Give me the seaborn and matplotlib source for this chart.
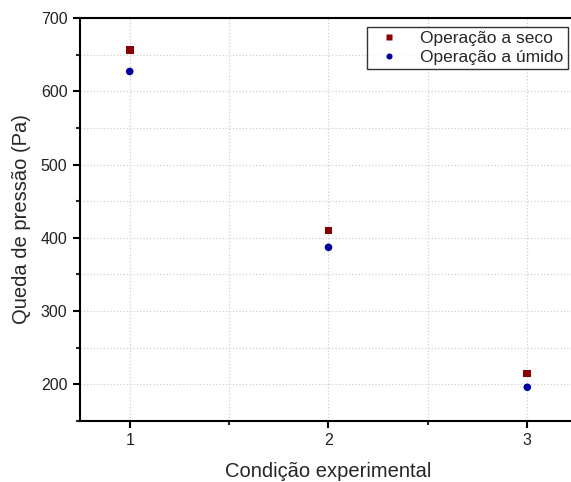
import pandas as pd
import numpy as np
import matplotlib
matplotlib.use('Agg')
import matplotlib.pyplot as plt
from matplotlib.ticker import MultipleLocator
import seaborn as sns

# data
condicao = [1, 2, 3]
queda_seco = [656, 410, 215]   # Pa
queda_umido = [627, 387, 196]  # Pa
series = ['Operação a seco', 'Operação a úmido']

df = pd.DataFrame({
    'condicao': condicao * 2,
    'queda': queda_seco + queda_umido,
    'serie': [series[0]] * 3 + [series[1]] * 3,
})

sns.set_style('white')
plt.rcParams['font.family'] = ['Liberation Sans', 'DejaVu Sans']

fig = plt.figure(figsize=(5.71, 4.82), dpi=100)
ax = fig.add_axes([0.1401, 0.1266, 0.8704, 0.8361])

sns.scatterplot(data=df, x='condicao', y='queda', hue='serie', style='serie',
                markers={series[0]: 's', series[1]: 'o'},
                palette={series[0]: '#8b0000', series[1]: '#0000a0'},
                s=30, edgecolor='none', ax=ax, zorder=3)

ax.set_xlim(0.75, 3.25)
ax.set_ylim(150, 700)
ax.xaxis.set_major_locator(MultipleLocator(1))
ax.xaxis.set_minor_locator(MultipleLocator(0.5))
ax.yaxis.set_major_locator(MultipleLocator(100))
ax.yaxis.set_minor_locator(MultipleLocator(50))

ax.grid(True, which='both', linestyle=':', color='#d0d0d0', linewidth=0.9)
ax.set_axisbelow(True)

for side in ['left', 'bottom', 'top', 'right']:
    ax.spines[side].set_linewidth(1.5)
    ax.spines[side].set_color('black')

ax.tick_params(which='major', direction='out', length=5, width=1.5,
               labelsize=11.5, colors='black', pad=4, bottom=True, left=True)
ax.tick_params(which='minor', direction='out', length=3, width=1.5,
               bottom=True, left=True)
ax.tick_params(axis='both', labelcolor='#222222')

ax.set_xlabel('Condição experimental', fontsize=14.5, labelpad=10)
ax.set_ylabel('Queda de pressão (Pa)', fontsize=14.5, labelpad=7)

leg = ax.legend(loc='upper left', bbox_to_anchor=((367 - 80) / 497.0, 1 - 9 / 403.0),
                fontsize=12.5, frameon=True, fancybox=False, borderpad=0.25,
                handletextpad=0.8, labelspacing=0.2, markerscale=0.8,
                handlelength=2.0, borderaxespad=0)
leg.get_frame().set_edgecolor('black')
leg.get_frame().set_linewidth(1.0)

fig.savefig('out.png', dpi=100)
